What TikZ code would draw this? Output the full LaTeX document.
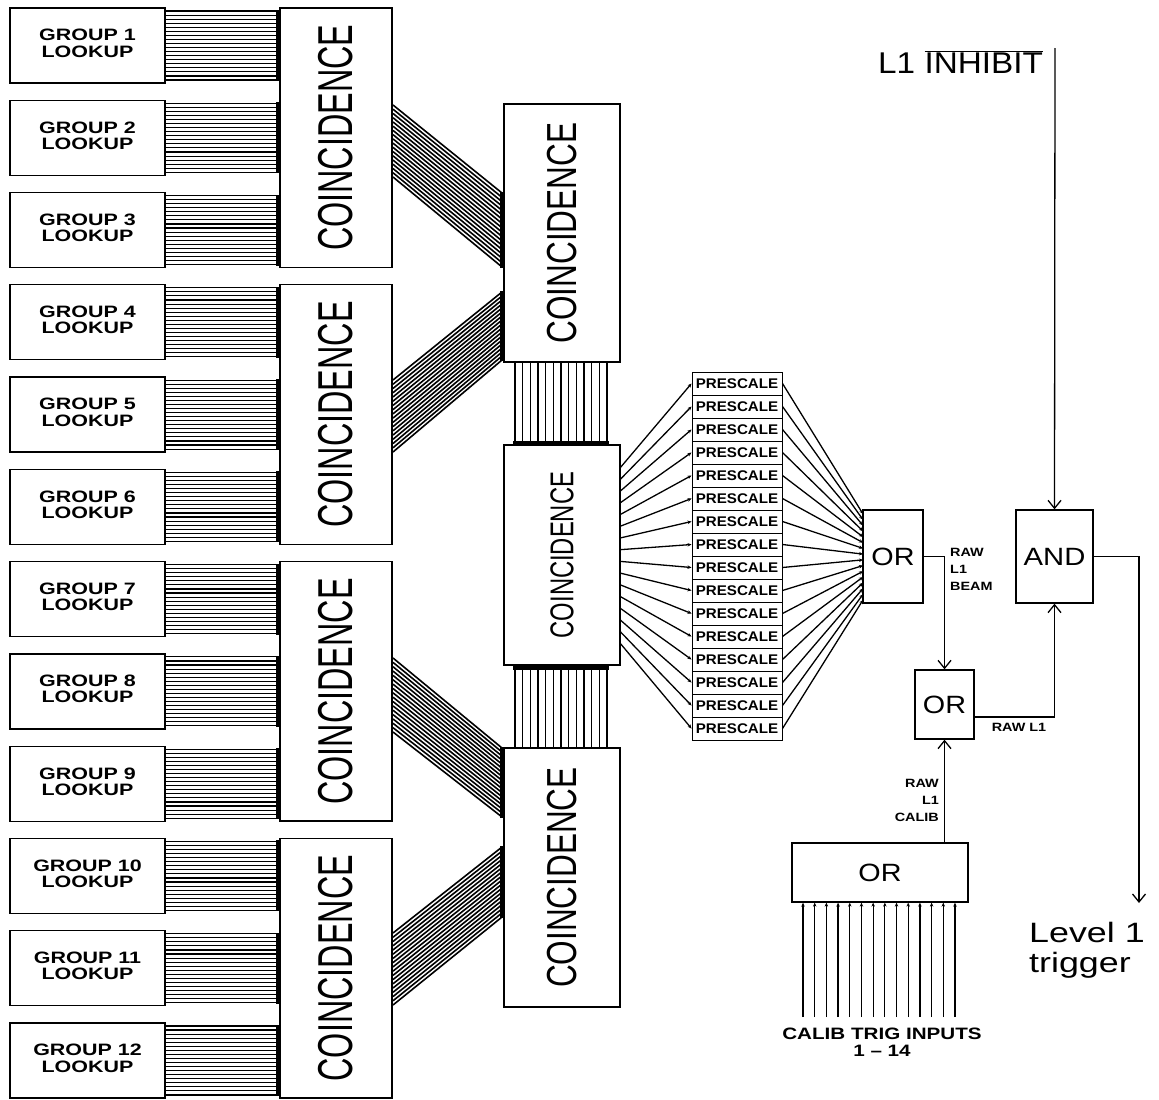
\documentclass[tikz,border=0pt]{standalone}
\usepackage{fontspec}
\usepackage{graphicx}
\setmainfont{Liberation Sans}
\usetikzlibrary{arrows.meta}
\newcommand{\hsc}[2]{\scalebox{#1}[1]{#2}}
\newcommand{\fs}[2]{\fontsize{#1}{#2}\selectfont}
\begin{document}
\begin{tikzpicture}[x=1pt,y=-1pt,
  box/.style={draw, line width=1.3pt, inner sep=0pt},
  bus/.style={line width=1.1pt},
  dbus/.style={line width=1.6pt},
  bar/.style={line width=3.2pt},
  arr/.style={-{Straight Barb[length=8pt,width=13pt,line width=1.3pt]}},
  sarr/.style={-{Stealth[length=4pt,width=3.5pt]}},
  wire/.style={line width=1.3pt},
  coin/.style={rotate=90, inner sep=0pt},
  lbl/.style={inner sep=0pt}]
\useasboundingbox (0,0) rectangle (1159,1100);

% group lookup boxes and their buses
\foreach \i in {1,...,12}{
  \pgfmathsetmacro{\ty}{8+92.27*(\i-1)}
  \node[box, minimum width=155, minimum height=75] (g\i) at (87.5,\ty+37.5)
    {\fs{16.5}{15.5}\bfseries\hsc{1.3}{\begin{tabular}{@{}c@{}}GROUP \i\\LOOKUP\end{tabular}}};
  \foreach \j in {0,...,17}{\draw[bus] (165,{\ty+3+\j*4.06}) -- (278,{\ty+3+\j*4.06});}
  \draw[bar] (278,\ty+2) -- (278,\ty+73);
}

% first-level coincidence
\foreach \k in {1,...,4}{
  \pgfmathsetmacro{\ty}{8+92.27*3*(\k-1)}
  \node[box, minimum width=112, minimum height=259.5] (c\k) at (336,\ty+129.75) {};
  \node[coin] at (c\k) {\fs{49}{49}\hsc{0.66}{COINCIDENCE}};
}

% second-level coincidence
\node[box, minimum width=116, minimum height=258] (sa) at (562,233) {};
\node[box, minimum width=116, minimum height=220] (sb) at (562,555) {};
\node[box, minimum width=116, minimum height=259] (sc) at (562,877.5) {};
\node[coin] at (sa) {\fs{42}{42}\hsc{0.75}{COINCIDENCE}};
\node[coin] at (sb) {\fs{33}{33}\hsc{0.72}{COINCIDENCE}};
\node[coin] at (sc) {\fs{42}{42}\hsc{0.75}{COINCIDENCE}};

% diagonal buses
\foreach \ly/\lY/\ry/\rY in {105/177/193/267, 380/452/292/360, 658/732/748/817, 933/1005/847/917}{
  \foreach \j in {0,...,17}{
    \draw[dbus] (393,{\ly+(\lY-\ly)*\j/17}) -- (502,{\ry+(\rY-\ry)*\j/17});
  }
  \draw[bar] (502,\ry-1) -- (502,\rY+1);
}

% vertical buses
\foreach \a/\b/\bb in {362/445/443, 665/748/668}{
  \foreach \j in {0,...,12}{\draw[bus] ({515+\j*7.67},\a) -- ({515+\j*7.67},\b);}
  \draw[bar] (513,\bb) -- (609,\bb);
}

% gates
\node[box, minimum width=60, minimum height=93] (or1) at (893,556.5) {\fs{25}{25}\hsc{1.15}{OR}};
\node[box, minimum width=59, minimum height=69] (or2) at (944.5,704.5) {\fs{25}{25}\hsc{1.15}{OR}};
\node[box, minimum width=77, minimum height=93] (andg) at (1054.5,556.5) {\fs{25}{25}\hsc{1.17}{AND}};
\node[box, minimum width=176, minimum height=59] (cor) at (880,872.5) {\fs{25}{25}\hsc{1.15}{OR}};

% prescalers
\foreach \i in {1,...,16}{
  \node[box, line width=1pt, minimum width=90, minimum height=23] (p\i) at (737,{383.5+23*(\i-1)})
    {\fs{14}{14}\bfseries\hsc{1.08}{PRESCALE}};
  \draw[wire, sarr] (620,{468+(\i-1)*11.67}) -- (p\i.west);
  \draw[wire, sarr] (p\i.east) -- (863,{514+(\i-1)*5.73});
}

% connections
\draw[wire, arr] (or1.east) -| (or2.north);
\draw[wire, arr] ([yshift=-12.5pt]or2.east) -| (andg.south);
\draw[wire, arr] (cor.north -| or2.south) -- (or2.south);
\coordinate (inh) at (1055,48);
\draw[wire, arr] (inh) -- (andg.north);
\coordinate (lv) at (1139,903);
\draw[wire, arr] (andg.east) -| (lv);

% calibration inputs
\foreach \i in {0,...,13}{
  \coordinate (ci\i) at ({803+\i*11.69},1017);
  \draw[wire, sarr] (ci\i) -- (ci\i |- cor.south);
}

% labels
\node[lbl, anchor=north west] at (950,544)
  {\fs{12}{17}\bfseries\hsc{1.2}{\begin{tabular}{@{}l@{}}RAW\\L1\\BEAM\end{tabular}}};
\node[lbl, anchor=north east] at (939,775)
  {\fs{12}{17}\bfseries\hsc{1.2}{\begin{tabular}{@{}r@{}}RAW\\L1\\CALIB\end{tabular}}};
\node[lbl] at (1019,727) {\fs{12}{12}\bfseries\hsc{1.2}{RAW L1}};
\node[lbl, anchor=base west] at (878,73) {\fs{30}{30}\hsc{1.11}{L1 $\overline{\hbox{INHIBIT}}$}};
\node[lbl, anchor=north west] at (1029,921)
  {\fs{28}{30}\hsc{1.28}{\begin{tabular}{@{}l@{}}Level 1\\trigger\end{tabular}}};
\node[lbl] at (882,1034) {\fs{16.5}{16.5}\bfseries\hsc{1.25}{CALIB TRIG INPUTS}};
\node[lbl] at (882,1051) {\fs{16.5}{16.5}\bfseries\hsc{1.25}{1 \textendash\ 14}};
\end{tikzpicture}
\end{document}
